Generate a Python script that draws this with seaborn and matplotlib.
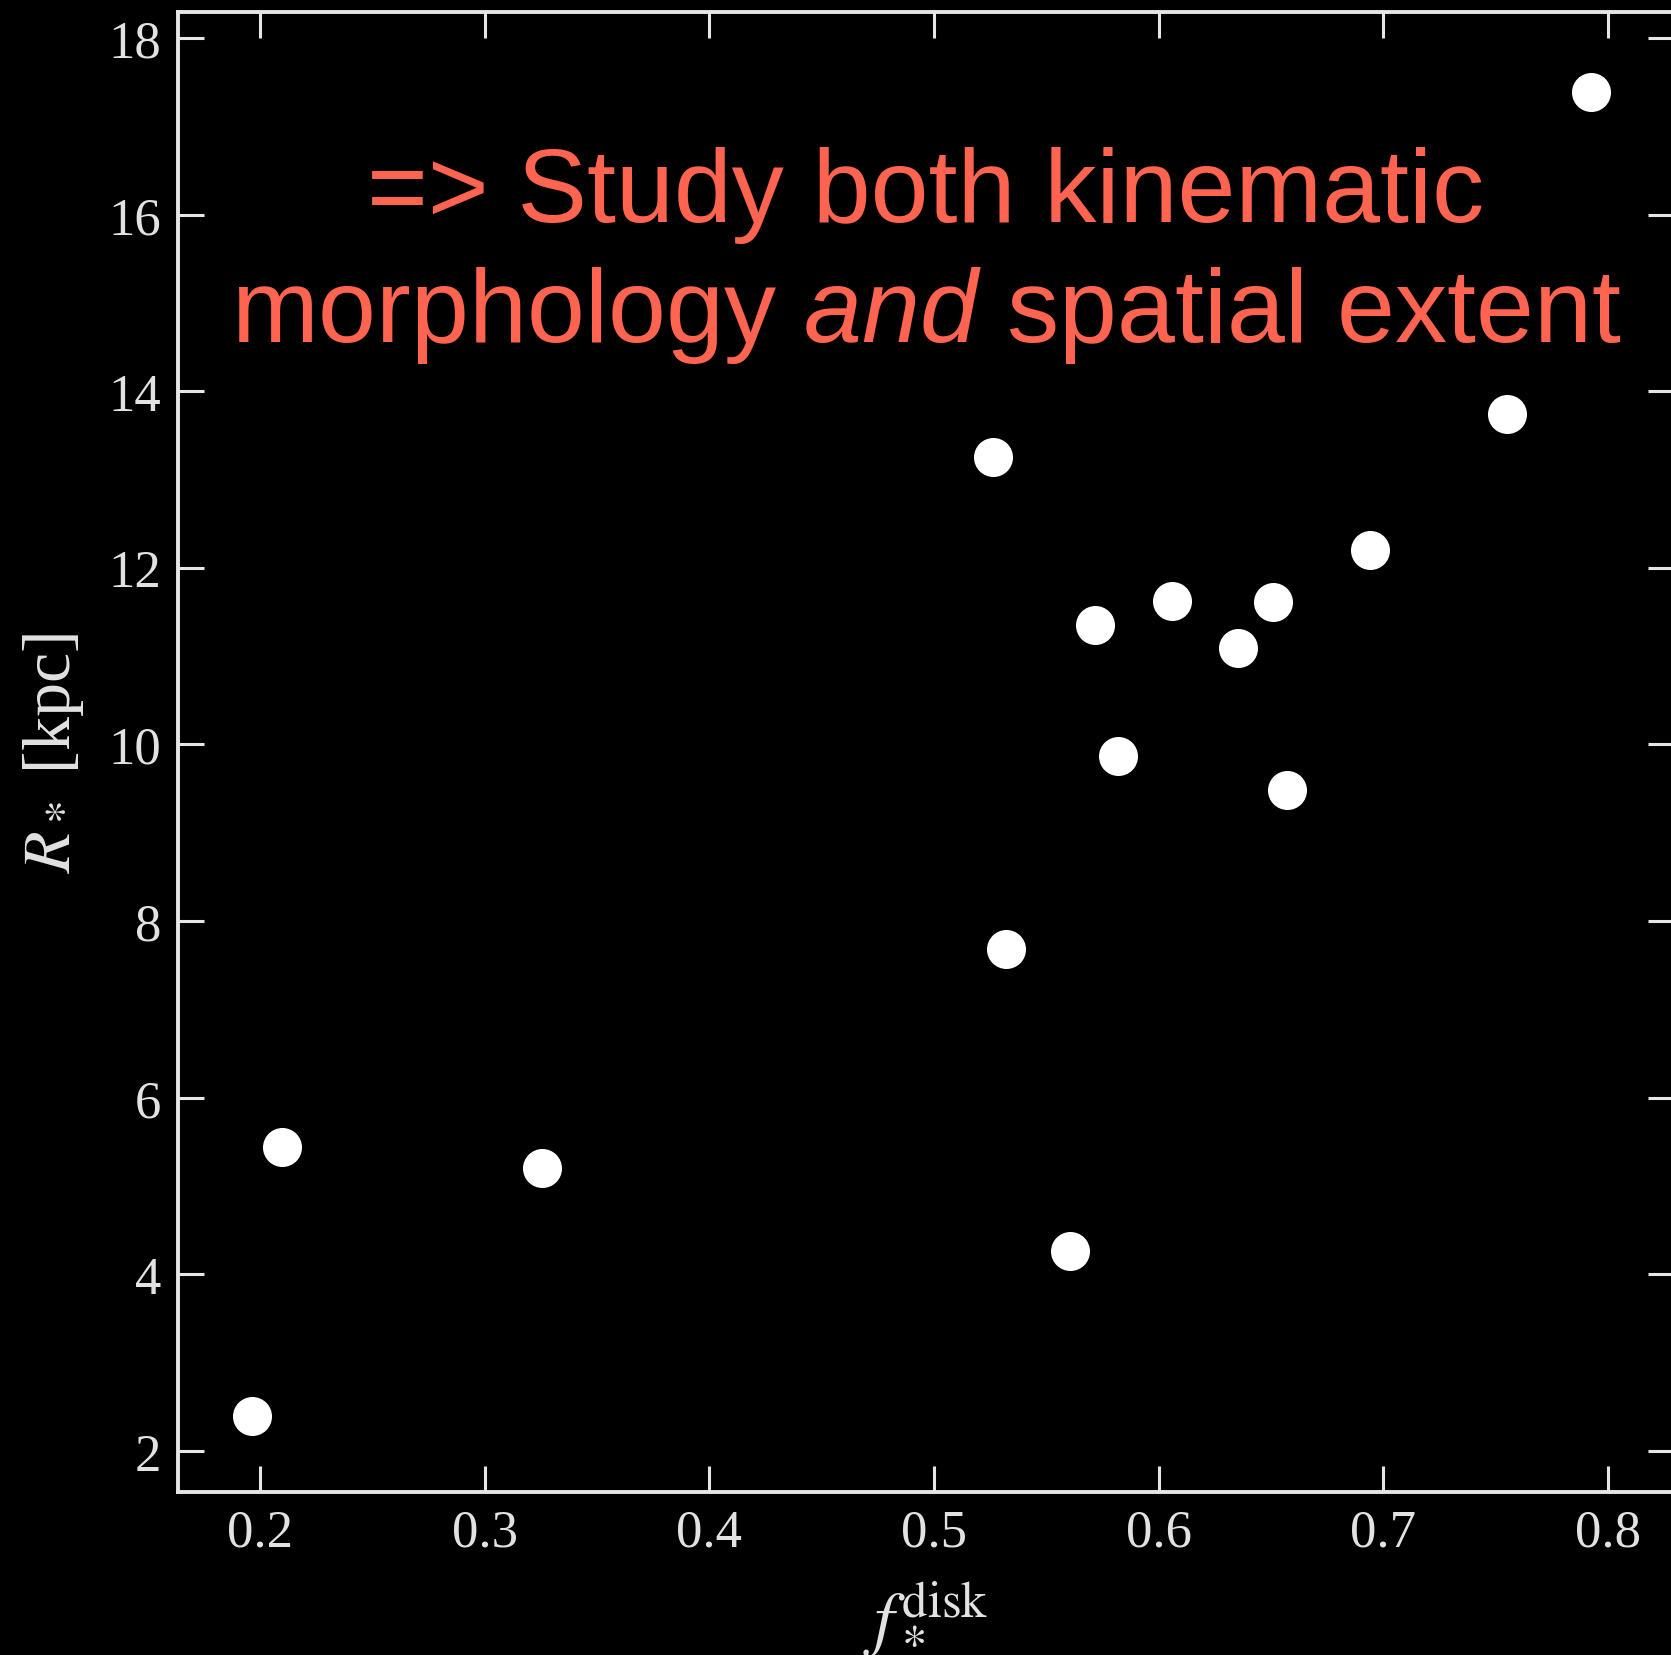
import matplotlib
matplotlib.use("Agg")
import matplotlib.pyplot as plt
import seaborn as sns
import pandas as pd

# ---- data ----
f_disk = [0.1964, 0.2098, 0.3255, 0.5262, 0.5320, 0.5605, 0.5716, 0.5818,
          0.6059, 0.6352, 0.6508, 0.6571, 0.6942, 0.7550, 0.7924]
r_star = [2.40, 5.44, 5.21, 13.26, 7.69, 4.26, 11.35, 9.87,
          11.62, 11.09, 11.61, 9.48, 12.20, 13.74, 17.39]
x_ticks = [0.2, 0.3, 0.4, 0.5, 0.6, 0.7, 0.8]
x_tick_labels = ["0.2", "0.3", "0.4", "0.5", "0.6", "0.7", "0.8"]
y_ticks = [2, 4, 6, 8, 10, 12, 14, 16, 18]
y_tick_labels = ["2", "4", "6", "8", "10", "12", "14", "16", "18"]
note_line1 = "=> Study both kinematic"
note_line2 = r"morphology $\mathit{and}$ spatial extent"
x_label = r"$f_*^{\rm disk}$"
y_label = r"$R_*$ [kpc]"

sns.set_theme(style="ticks")
plt.rcParams['font.family'] = ['Liberation Serif', 'DejaVu Serif']
plt.rcParams['mathtext.fontset'] = 'stix'
plt.rcParams['mathtext.rm'] = 'Liberation Sans'
plt.rcParams['mathtext.it'] = 'Liberation Sans:italic'
plt.rcParams['mathtext.bf'] = 'Liberation Sans:bold'

W, H = 1671, 1656
fig = plt.figure(figsize=(W / 100, H / 100), dpi=100, facecolor='black')
ax = fig.add_axes([178 / W, 163 / H, 1496 / W, 1480 / H])
ax.set_facecolor('black')

df = pd.DataFrame({'f': f_disk, 'R': r_star})
sns.scatterplot(data=df, x='f', y='R', ax=ax, s=790, color='white',
                linewidth=0, legend=False, zorder=3)

ax.set_xlim(0.1635, 0.8294)
ax.set_ylim(1.536, 18.294)
ax.set_xticks(x_ticks)
ax.set_xticklabels(x_tick_labels)
ax.set_yticks(y_ticks)
ax.set_yticklabels(y_tick_labels)
ax.minorticks_off()

line_col = '#e6e6e6'
ax.tick_params(which='major', direction='in', length=19, width=2.2,
               color=line_col, labelcolor='#e2e2e2', labelsize=38,
               top=True, right=True, pad=12)
for sp in ax.spines.values():
    sp.set_color(line_col)
    sp.set_linewidth(2.8)

ax.set_xlabel(x_label, fontsize=52, color='#e2e2e2', labelpad=16)
ax.set_ylabel(y_label, fontsize=49, color='#e2e2e2', labelpad=16)

red = '#FF6450'
ax.text(0.5, 0.8588, note_line1, transform=ax.transAxes, ha='center',
        va='baseline', fontsize=75, color=red, family='Liberation Sans')
ax.text(0.5, 0.7777, note_line2, transform=ax.transAxes, ha='center',
        va='baseline', fontsize=75, color=red, family='Liberation Sans',
        math_fontfamily='custom')

fig.savefig('out.png', dpi=100, facecolor='black')
